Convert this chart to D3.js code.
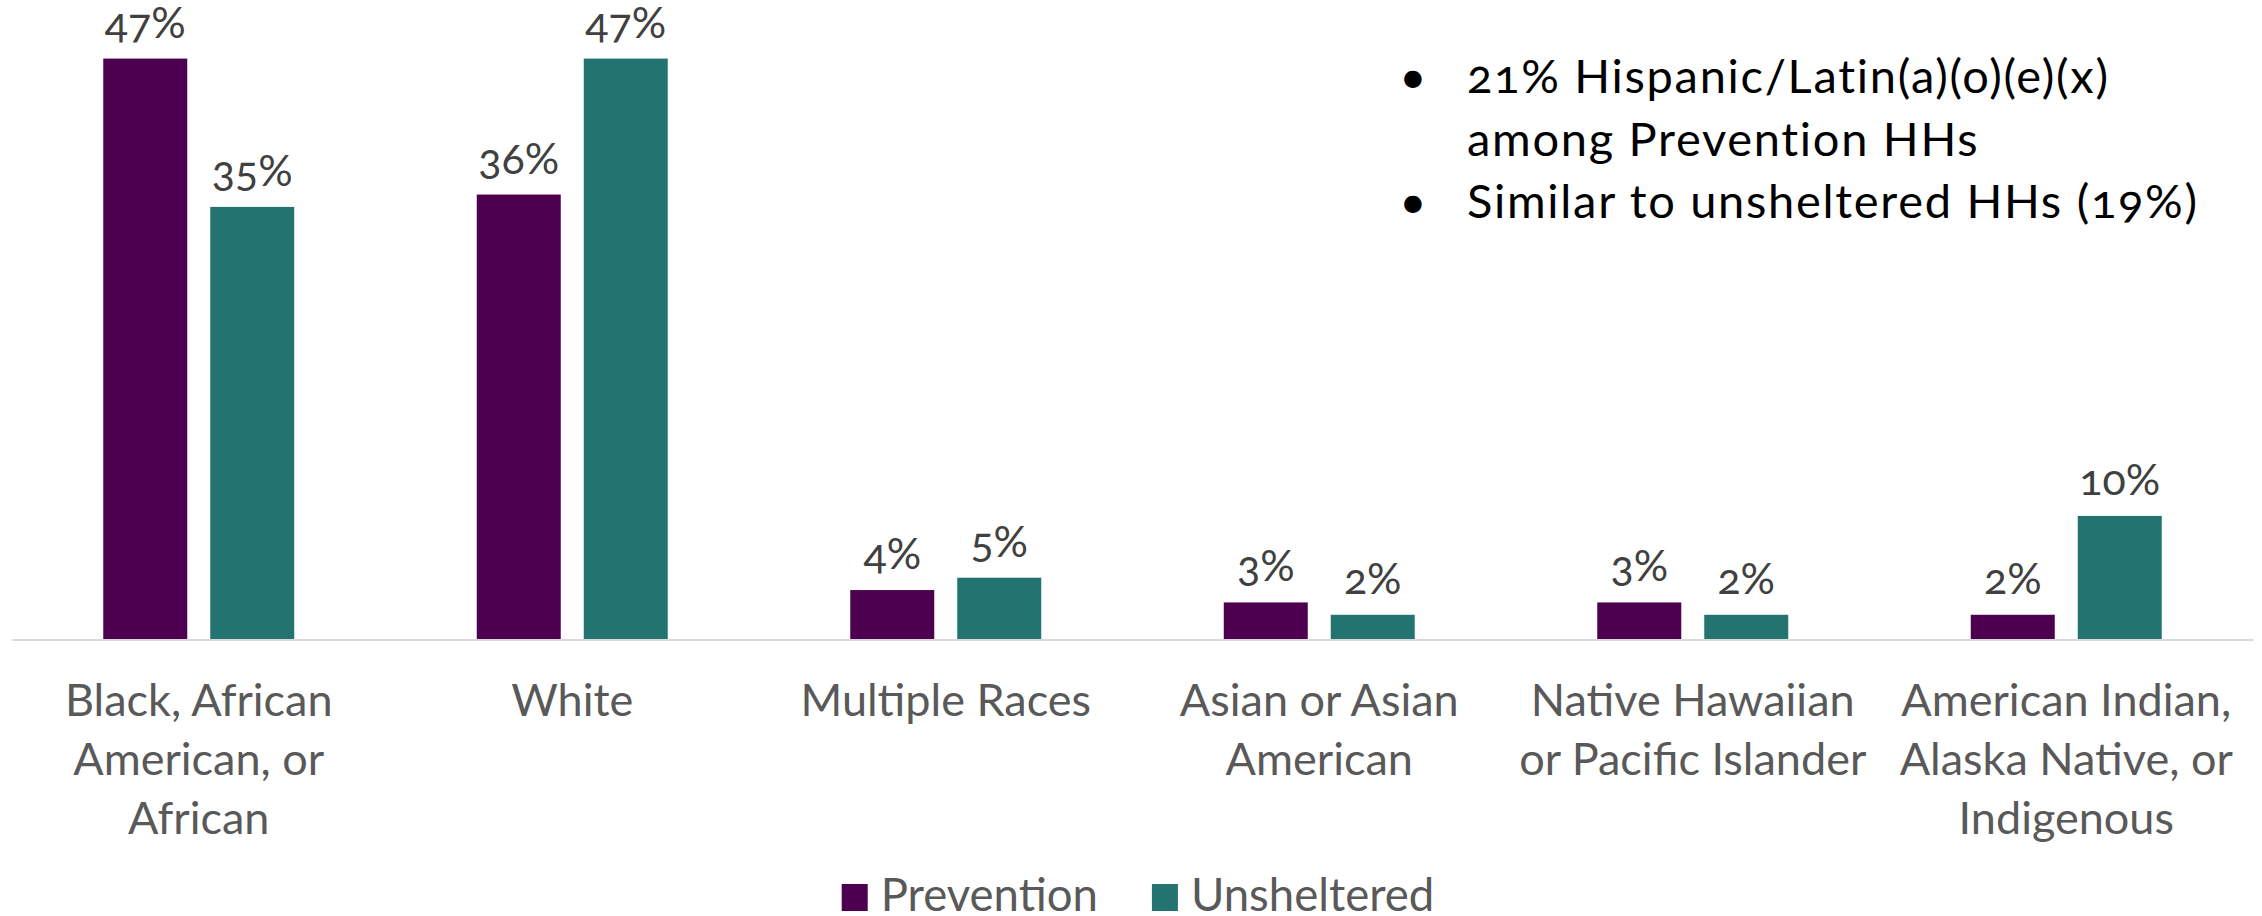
<!DOCTYPE html>
<html>
<head>
<meta charset="utf-8">
<script src="https://cdn.jsdelivr.net/npm/d3@7"></script>
<style>
  html, body { margin: 0; padding: 0; background: #ffffff; }
  svg { display: block; }
  svg text { font-family: Lato, "Open Sans", "DejaVu Sans", sans-serif; }
  .onum { font-variant-numeric: oldstyle-nums; }
</style>
</head>
<body>
<svg id="chart" width="2262" height="916"></svg>
<script>
// Race of households: Prevention vs. Unsheltered
const categories = [
  "Black, African American, or African",
  "White",
  "Multiple Races",
  "Asian or Asian American",
  "Native Hawaiian or Pacific Islander",
  "American Indian, Alaska Native, or Indigenous"
];
const categoryLines = [
  ["Black, African", "American, or", "African"],
  ["White"],
  ["Multiple Races"],
  ["Asian or Asian", "American"],
  ["Native Hawaiian", "or Pacific Islander"],
  ["American Indian,", "Alaska Native, or", "Indigenous"]
];
const seriesNames = ["Prevention", "Unsheltered"];
const prevention  = [0.47, 0.36, 0.04, 0.03, 0.03, 0.02];
const unsheltered = [0.35, 0.47, 0.05, 0.02, 0.02, 0.10];
const noteBullets = [
  ["21% Hispanic/Latin(a)(o)(e)(x)", "among Prevention HHs"],
  ["Similar to unsheltered HHs (19%)"]
];
const seriesColors = ["#4c004f", "#237371"];

const svg = d3.select("#chart");
const seriesValues = [prevention, unsheltered];

const x0 = d3.scaleBand().domain(categories).range([12, 2253]);
const x1 = d3.scaleBand().domain(seriesNames).range([0, x0.bandwidth()])
  .paddingInner(0.215).paddingOuter(0.853);
const y = d3.scaleLinear().domain([0, 0.5]).range([639.5, 21.5]);
const color = d3.scaleOrdinal().domain(seriesNames).range(seriesColors);
const pct = d3.format(".0%");

const rows = categories.flatMap((c, i) =>
  seriesNames.map((s, j) => ({ category: c, series: s, value: seriesValues[j][i] }))
);

// bars
svg.append("g").selectAll("rect").data(rows).join("rect")
  .attr("x", d => x0(d.category) + x1(d.series))
  .attr("y", d => y(d.value))
  .attr("width", x1.bandwidth())
  .attr("height", d => y(0) - y(d.value))
  .attr("fill", d => color(d.series));

// value labels
svg.append("g").selectAll("text").data(rows).join("text")
  .attr("class", "onum")
  .attr("x", d => x0(d.category) + x1(d.series) + x1.bandwidth() / 2)
  .attr("y", d => y(d.value) - 21)
  .attr("text-anchor", "middle")
  .attr("font-size", 43)
  .attr("fill", "#404040")
  .text(d => pct(d.value));

// category axis
const axis = svg.append("g")
  .attr("transform", `translate(0,${y(0)})`)
  .call(d3.axisBottom(x0).tickSize(0).tickSizeOuter(0).tickFormat(""));
axis.attr("font-family", null);
axis.select(".domain").attr("stroke", "#d9d9d9").attr("stroke-width", 2);
axis.selectAll(".tick text").remove();
axis.selectAll(".tick").each(function (c) {
  const lines = categoryLines[categories.indexOf(c)];
  const t = d3.select(this).append("text")
    .attr("text-anchor", "middle")
    .attr("font-size", 45)
    .attr("fill", "#595959");
  lines.forEach((ln, k) => {
    t.append("tspan").attr("x", 0).attr("y", 76 + k * 59).text(ln);
  });
});

// side notes
const notes = svg.append("g").attr("class", "onum").attr("fill", "#000000")
  .attr("font-size", 47).attr("letter-spacing", 1.7);
let lineIdx = 0;
noteBullets.forEach(item => {
  notes.append("text")
    .attr("x", 1413).attr("y", 93 + lineIdx * 62.5)
    .attr("text-anchor", "middle")
    .attr("letter-spacing", 0)
    .text("\u2022");
  item.forEach(ln => {
    notes.append("text")
      .attr("x", 1467).attr("y", 93 + lineIdx * 62.5)
      .text(ln);
    lineIdx++;
  });
});

// legend
const legend = svg.append("g");
let lx = 0;
seriesNames.forEach((s, i) => {
  const g = legend.append("g").attr("transform", `translate(${lx},0)`);
  g.append("rect").attr("x", 0).attr("y", -27).attr("width", 26).attr("height", 27)
    .attr("fill", color(s));
  const t = g.append("text").attr("x", 39).attr("y", 0)
    .attr("font-size", 45.5).attr("fill", "#595959").text(s);
  lx += 39 + t.node().getComputedTextLength() + 54;
});
const legendWidth = lx - 54;
legend.attr("transform", `translate(${1138 - legendWidth / 2},911)`);
</script>
</body>
</html>
